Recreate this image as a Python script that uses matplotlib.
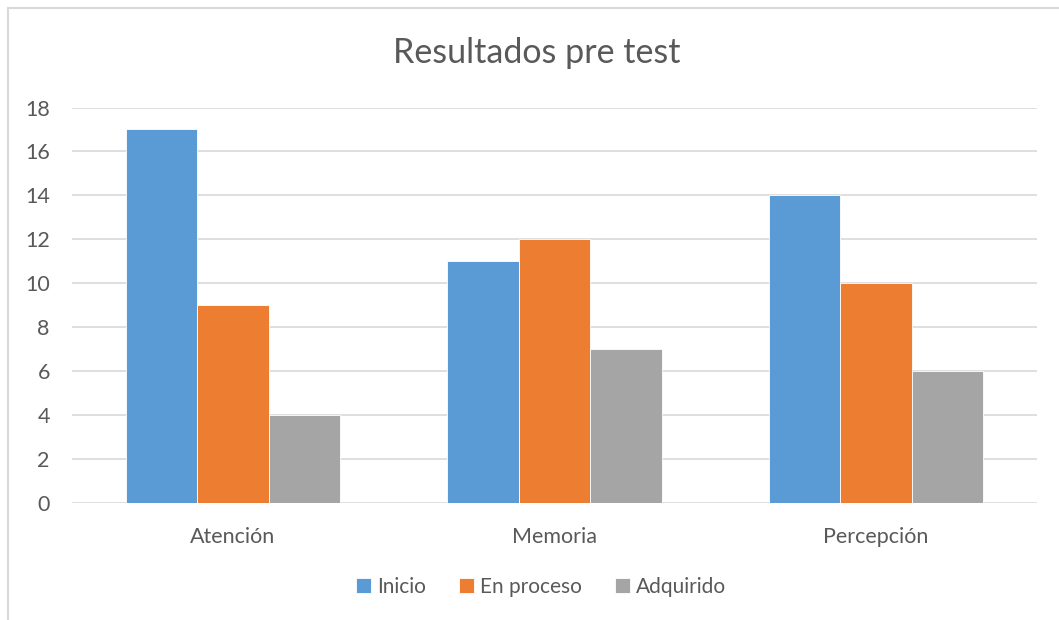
import numpy as np
import matplotlib.pyplot as plt
from matplotlib.patches import Rectangle

plt.rcParams['font.family'] = ['Lato', 'DejaVu Sans']

categorias = ['Atención', 'Memoria', 'Percepción']
series = ['Inicio', 'En proceso', 'Adquirido']
inicio = [17, 11, 14]
en_proceso = [9, 12, 10]
adquirido = [4, 7, 6]
colores = ['#5B9BD5', '#ED7D31', '#A5A5A5']
texto = '#595959'

fig = plt.figure(figsize=(10.59, 6.2), dpi=100)
# marco del grafico
fig.patches.append(Rectangle((8/1059, -0.1), 1.2, 1 - 8/620 + 0.1, transform=fig.transFigure,
                             facecolor='none', edgecolor='#D9D9D9', linewidth=1.5, zorder=-1))

ax = fig.add_axes([72/1059, 117/620, 965/1059, 395.5/620])
ax.set_facecolor('none')

x = np.arange(len(categorias))
ancho = 0.222
for i, (nombre, vals) in enumerate(zip(series, [inicio, en_proceso, adquirido])):
    ax.bar(x + (i - 1) * ancho, vals, ancho, color=colores[i], label=nombre,
           edgecolor='white', linewidth=0.6, zorder=3)

ax.set_xlim(-0.5, 2.5)
ax.set_ylim(0, 18)
ax.set_yticks(range(0, 19, 2))
ax.grid(axis='y', color='#D9D9D9', linewidth=1.2, zorder=0)
for s in ax.spines.values():
    s.set_visible(False)
ax.tick_params(length=0, labelsize=15.5, labelcolor=texto)
ax.tick_params(axis='y', pad=16)
ax.tick_params(axis='x', pad=17)
ax.set_xticks(x)
ax.set_xticklabels(categorias)

fig.text(537/1059, 1 - 53/620, 'Resultados pre test', ha='center', va='center',
         fontsize=24.5, color=texto)

leg = fig.legend(loc='center', bbox_to_anchor=(541/1059, 1 - 587/620), ncol=3, frameon=False,
                 fontsize=15, handlelength=0.7, handleheight=0.7, handletextpad=0.3,
                 columnspacing=1.6)
for t in leg.get_texts():
    t.set_color(texto)

fig.savefig('out.png', dpi=100)
